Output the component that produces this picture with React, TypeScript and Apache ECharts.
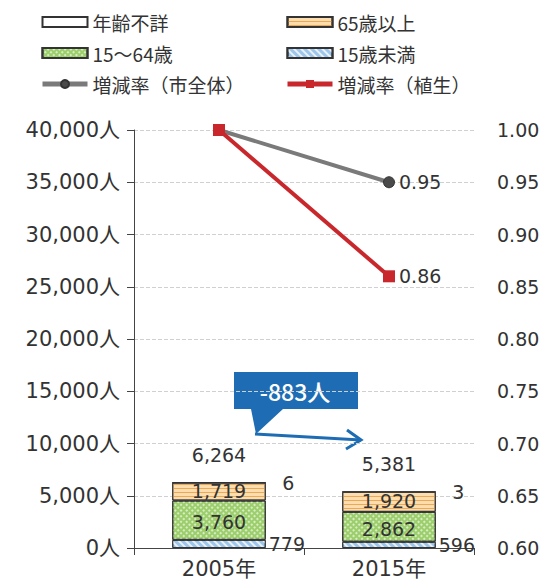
import React, { useEffect, useRef } from "react";
import * as echarts from "echarts";

const categories = ["2005年", "2015年"];
const under15 = [779, 596];
const age15to64 = [3760, 2862];
const over65 = [1719, 1920];
const unknownAge = [6, 3];
const rateCity = [1.0, 0.95];
const rateVeg = [1.0, 0.86];

const FONT = '"Noto Sans CJK JP", "Noto Sans", sans-serif';
const NUMFONT = '"DejaVu Sans", "Noto Sans CJK JP", sans-serif';
const TXT = "#333";
const BLUE = "#1E6DB4";

export default function App() {
  const ref = useRef<HTMLDivElement>(null);
  useEffect(() => {
    if (!ref.current) return;
    const chart = echarts.init(ref.current, undefined, { renderer: "svg" });
    const totals = categories.map(
      (_, i) => under15[i] + age15to64[i] + over65[i] + unknownAge[i]
    );
    const diff = totals[1] - totals[0];
    const fmt = (v: number) => v.toLocaleString("en-US");
    const lastOnly = (arr: number[]) =>
      arr.map((v, i) =>
        i === arr.length - 1
          ? { value: v, label: { show: true } }
          : { value: v, label: { show: false } }
      );
    const barBorder = { borderColor: "#333", borderWidth: 1 };
    const numLabel = { color: TXT, fontSize: 19, fontFamily: NUMFONT, fontWeight: "normal" };
    const legendText = { fontSize: 19, color: TXT, fontFamily: FONT, lineHeight: 20 };
    const option: any = {
      animation: false,
      textStyle: { fontFamily: FONT },
      grid: { left: 134, right: 77, top: 130, bottom: 40 },
      legend: [
        {
          orient: "vertical",
          left: 35,
          top: 7,
          itemWidth: 45,
          itemHeight: 10,
          itemGap: 11,
          textStyle: legendText,
          data: [
            { name: "年齢不詳", icon: "rect" },
            { name: "15～64歳", icon: "rect" },
            { name: "増減率（市全体）", lineStyle: { width: 5, color: "#7a7a7a" } },
          ],
        },
        {
          orient: "vertical",
          left: 280,
          top: 7,
          itemWidth: 45,
          itemHeight: 10,
          itemGap: 11,
          textStyle: legendText,
          data: [
            { name: "65歳以上", icon: "rect" },
            { name: "15歳未満", icon: "rect" },
            { name: "増減率（植生）", lineStyle: { width: 5, color: "#C8282C" } },
          ],
        },
      ],
      xAxis: {
        type: "category",
        data: categories,
        axisLine: { lineStyle: { color: "#444", width: 1 } },
        axisTick: { show: true, length: 7, lineStyle: { color: "#444" } },
        axisLabel: { color: TXT, fontSize: 21, margin: 10, fontFamily: NUMFONT },
      },
      yAxis: [
        {
          type: "value",
          min: 0,
          max: 40000,
          interval: 5000,
          axisLine: { show: true, lineStyle: { color: "#444" } },
          axisTick: { show: true, length: 7, lineStyle: { color: "#444" } },
          axisLabel: {
            color: TXT,
            fontSize: 21,
            margin: 14,
            fontFamily: NUMFONT,
            formatter: (v: number) => fmt(v) + "人",
          },
          splitLine: { show: true, lineStyle: { color: "#d0d0d0", type: "dashed", width: 1 } },
        },
        {
          type: "value",
          min: 0.6,
          max: 1.0,
          interval: 0.05,
          axisLine: { show: false },
          axisTick: { show: false },
          axisLabel: {
            color: TXT,
            fontSize: 19,
            margin: 23,
            fontFamily: NUMFONT,
            formatter: (v: number) => v.toFixed(2),
          },
          splitLine: { show: false },
        },
      ],
      series: [
        {
          name: "15歳未満",
          type: "bar",
          stack: "pop",
          barWidth: "55%",
          data: under15,
          itemStyle: {
            color: "#9DC6EA",
            ...barBorder,
            decal: {
              symbol: "rect",
              symbolSize: 1,
              color: "rgba(255,255,255,0.75)",
              dashArrayX: [1, 0],
              dashArrayY: [2, 3],
              rotation: Math.PI / 4,
            },
          },
          label: {
            show: true,
            position: "right",
            distance: 3,
            ...numLabel,
            formatter: (p: any) => fmt(p.value),
          },
        },
        {
          name: "15～64歳",
          type: "bar",
          stack: "pop",
          data: age15to64,
          itemStyle: {
            color: "#9CCF6C",
            ...barBorder,
            decal: {
              symbol: "rect",
              symbolSize: 1,
              color: "rgba(255,255,255,0.6)",
              dashArrayX: [2, 2],
              dashArrayY: [2, 2],
              rotation: Math.PI / 4,
            },
          },
          label: {
            show: true,
            position: "inside",
            offset: [0, 2],
            ...numLabel,
            formatter: (p: any) => fmt(p.value),
          },
        },
        {
          name: "65歳以上",
          type: "bar",
          stack: "pop",
          data: over65,
          itemStyle: {
            color: "#FBDDB0",
            ...barBorder,
            decal: {
              symbol: "rect",
              symbolSize: 1,
              color: "#EBA955",
              dashArrayX: [1, 0],
              dashArrayY: [1, 3],
              rotation: 0,
            },
          },
          label: {
            show: true,
            position: "inside",
            offset: [0, -1],
            ...numLabel,
            formatter: (p: any) => fmt(p.value),
          },
        },
        {
          name: "年齢不詳",
          type: "bar",
          stack: "pop",
          data: unknownAge,
          itemStyle: { color: "#ffffff", ...barBorder },
          label: {
            show: true,
            position: "right",
            distance: 16,
            ...numLabel,
          },
        },
        {
          name: "合計",
          type: "scatter",
          data: totals,
          symbolSize: 0,
          silent: true,
          itemStyle: { opacity: 1 },
          label: {
            show: true,
            position: "top",
            distance: 18,
            opacity: 1,
            ...numLabel,
            formatter: (p: any) => fmt(p.value),
          },
        },
        {
          name: "増減率（市全体）",
          type: "line",
          yAxisIndex: 1,
          data: lastOnly(rateCity),
          symbol: "circle",
          symbolSize: 11,
          lineStyle: { color: "#7a7a7a", width: 4 },
          itemStyle: { color: "#4a4a4a", borderColor: "#333", borderWidth: 1 },
          label: {
            position: "right",
            distance: 4,
            ...numLabel,
            formatter: (p: any) => Number(p.value).toFixed(2),
          },
          z: 3,
        },
        {
          name: "増減率（植生）",
          type: "line",
          yAxisIndex: 1,
          data: lastOnly(rateVeg),
          symbol: "rect",
          symbolSize: 12,
          lineStyle: { color: "#C8282C", width: 4 },
          itemStyle: { color: "#C8282C" },
          label: {
            position: "right",
            distance: 4,
            ...numLabel,
            formatter: (p: any) => Number(p.value).toFixed(2),
          },
          z: 4,
        },
      ],
      graphic: [
        {
          type: "group",
          children: [
            {
              type: "polygon",
              shape: {
                points: [
                  [234, 372],
                  [358, 372],
                  [358, 409],
                  [283, 409],
                  [256, 434],
                  [251, 409],
                  [234, 409],
                ],
              },
              style: { fill: BLUE },
            },
            {
              type: "text",
              x: 295,
              y: 391,
              style: {
                text: diff + "人",
                fill: "#ffffff",
                fontSize: 23,
                fontWeight: 500,
                fontFamily: FONT,
                align: "center",
                verticalAlign: "middle",
              },
            },
            {
              type: "line",
              shape: { x1: 255, y1: 434, x2: 361, y2: 440 },
              style: { stroke: BLUE, lineWidth: 3 },
            },
            {
              type: "polyline",
              shape: {
                points: [
                  [347, 430],
                  [361, 440],
                  [346, 449],
                ],
              },
              style: { stroke: BLUE, lineWidth: 3, fill: "none" },
            },
          ],
        },
      ],
    };
    chart.setOption(option);
    return () => chart.dispose();
  }, []);
  return (
    <div
      ref={ref}
      style={{ position: "fixed", left: 0, top: 0, width: 551, height: 588, background: "#fff" }}
    />
  );
}
